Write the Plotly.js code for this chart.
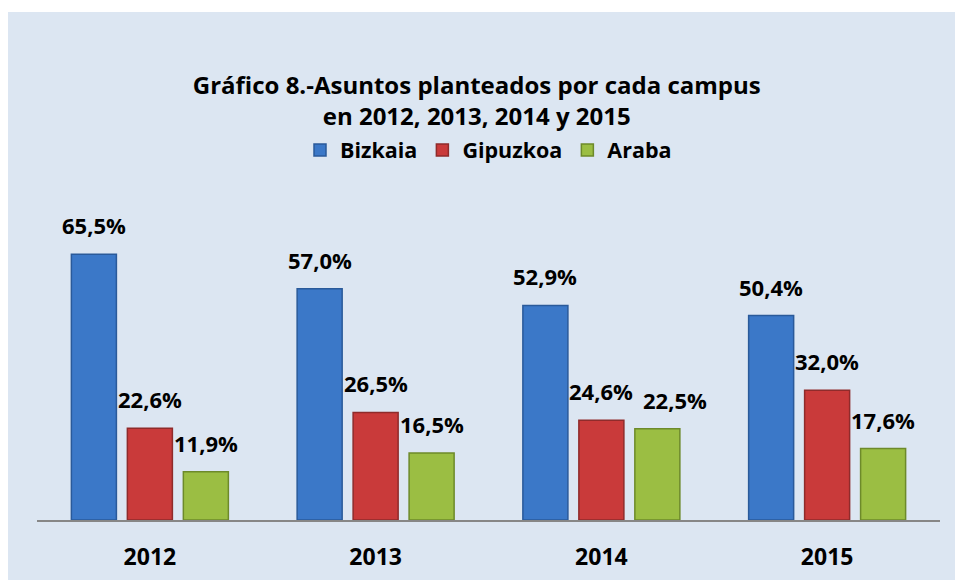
<!DOCTYPE html>
<html>
<head>
<meta charset="utf-8">
<script src="https://cdn.plot.ly/plotly-3.0.1.min.js"></script>
<style>
html,body{margin:0;padding:0;background:#ffffff;}
#chart{position:absolute;left:8px;top:12px;width:947px;height:568px;}
</style>
</head>
<body>
<div id="chart"></div>
<script>
const years = ['2012', '2013', '2014', '2015'];
const seriesNames = ['Bizkaia', 'Gipuzkoa', 'Araba'];
const bizkaia = [65.5, 57.0, 52.9, 50.4];
const gipuzkoa = [22.6, 26.5, 24.6, 32.0];
const araba = [11.9, 16.5, 22.5, 17.6];

const fillColors = ['#3b78c8', '#c93a3a', '#9bbe43'];
const lineColors = ['#2a5a9a', '#8f2b2b', '#6d8a2a'];
const FONT = 'Open Sans, Liberation Sans, sans-serif';

const allSeries = [bizkaia, gipuzkoa, araba];
const traces = allSeries.map((vals, i) => ({
  type: 'bar',
  name: seriesNames[i],
  x: years,
  y: vals,
  marker: {color: fillColors[i], line: {color: lineColors[i], width: 1.5}},
  hoverinfo: 'none'
}));

// data labels centred over each bar; labels that would collide get a small nudge
const slotPx = 56;
const labelNudge = {'2-2': 18};
const annotations = [];
allSeries.forEach((vals, i) => {
  vals.forEach((v, j) => {
    annotations.push({
      x: j, y: v, xref: 'x', yref: 'y',
      text: '<b>' + v.toFixed(1).replace('.', ',') + '%</b>',
      showarrow: false, xanchor: 'center', yanchor: 'bottom',
      xshift: (i - 1) * slotPx + (labelNudge[i + '-' + j] || 0), yshift: 12,
      font: {family: FONT, size: 22, color: '#000000'}
    });
  });
});

const layout = {
  width: 947, height: 568,
  paper_bgcolor: '#dce6f2', plot_bgcolor: 'rgba(0,0,0,0)',
  margin: {l: 29, r: 15, t: 224, b: 60},
  barmode: 'group', bargap: 0.256, bargroupgap: 0.196,
  title: {
    text: '<b>Gráfico 8.-Asuntos planteados por cada campus<br>en 2012, 2013, 2014 y 2015</b>',
    x: 0.495, xref: 'container', xanchor: 'center',
    y: 1 - 82 / 568, yref: 'container', yanchor: 'top',
    font: {family: FONT, size: 24, color: '#000000'}
  },
  showlegend: true,
  legend: {
    orientation: 'h', x: 0.5, xanchor: 'center', y: 1.303, yanchor: 'middle',
    font: {family: FONT, size: 21.5, color: '#000000', weight: 'bold'},
    bgcolor: 'rgba(0,0,0,0)', itemwidth: 30, traceorder: 'normal'
  },
  xaxis: {
    type: 'category', range: [-0.5, 3.5], showgrid: false, zeroline: false,
    showline: true, linecolor: '#878787', linewidth: 2,
    ticks: '', ticklabelstandoff: 15,
    tickfont: {family: FONT, size: 23, color: '#000000', weight: 'bold'},
    fixedrange: true
  },
  yaxis: {
    range: [0, 70], showgrid: false, zeroline: false, showline: false,
    showticklabels: false, ticks: '', fixedrange: true
  },
  annotations: annotations
};

Plotly.newPlot('chart', traces, layout, {displayModeBar: false});
</script>
</body>
</html>
